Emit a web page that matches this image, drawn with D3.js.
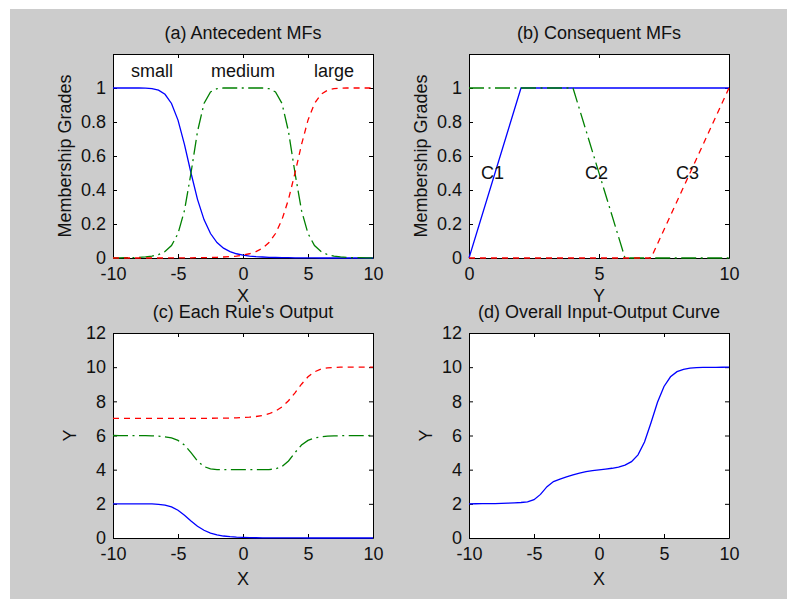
<!DOCTYPE html>
<html>
<head>
<meta charset="utf-8">
<script src="https://cdn.jsdelivr.net/npm/d3@7"></script>
<style>
  html, body { margin: 0; padding: 0; background: #ffffff; }
  svg text { font-family: "Liberation Sans", Arial, Helvetica, sans-serif; fill: #111; }
</style>
</head>
<body>
<script>
// Input grid for the single-input Tsukamoto fuzzy model
const xGrid = [-10, -9.5, -9, -8.5, -8, -7.5, -7, -6.5, -6, -5.5, -5, -4.5, -4, -3.5, -3, -2.5, -2, -1.5, -1, -0.5,
  0, 0.5, 1, 1.5, 2, 2.5, 3, 3.5, 4, 4.5, 5, 5.5, 6, 6.5, 7, 7.5, 8, 8.5, 9, 9.5, 10];

// Antecedent membership grades
const mfSmall = [1, 1, 1, 1, 1.000, 0.999, 0.996, 0.987, 0.963, 0.909, 0.811, 0.667, 0.5, 0.345, 0.226, 0.144, 0.091, 0.058, 0.038, 0.025,
  0.017, 0.011, 0.008, 0.006, 0.004, 0.003, 0.002, 0.002, 0.001, 0.001, 0.001, 0.001, 0, 0, 0, 0, 0, 0, 0, 0, 0];
const mfMedium = [0.001, 0.001, 0.002, 0.002, 0.004, 0.007, 0.011, 0.020, 0.038, 0.073, 0.144, 0.280, 0.5, 0.744, 0.909, 0.977, 0.996, 1.000, 1, 1,
  1, 1, 1, 1.000, 0.996, 0.977, 0.909, 0.744, 0.5, 0.280, 0.144, 0.073, 0.038, 0.020, 0.011, 0.007, 0.004, 0.002, 0.002, 0.001, 0.001];
const mfLarge = [0, 0, 0, 0, 0, 0, 0, 0, 0, 0.001, 0.001, 0.001, 0.001, 0.002, 0.002, 0.003, 0.004, 0.006, 0.008, 0.011,
  0.017, 0.025, 0.038, 0.058, 0.091, 0.144, 0.226, 0.345, 0.5, 0.667, 0.811, 0.909, 0.963, 0.987, 0.996, 0.999, 1.000, 1, 1, 1, 1];

// Consequent membership functions (break points)
const c1X = [0, 2, 10],        c1Y = [0, 1, 1];
const c2X = [0, 4, 6, 10],     c2Y = [1, 1, 0, 0];
const c3X = [0, 7, 10],        c3Y = [0, 0, 1];

// Output of each rule
const rule1Out = [2, 2, 2, 2, 2.000, 1.998, 1.992, 1.974, 1.925, 1.818, 1.623, 1.335, 1.0, 0.690, 0.451, 0.287, 0.182, 0.116, 0.075, 0.049,
  0.033, 0.022, 0.016, 0.011, 0.008, 0.006, 0.004, 0.003, 0.002, 0.002, 0.001, 0.001, 0.001, 0.001, 0, 0, 0, 0, 0, 0, 0];
const rule2Out = [5.999, 5.998, 5.997, 5.995, 5.992, 5.987, 5.978, 5.960, 5.925, 5.855, 5.713, 5.439, 5.0, 4.511, 4.182, 4.045, 4.008, 4.001, 4, 4,
  4, 4, 4, 4.001, 4.008, 4.045, 4.182, 4.511, 5.0, 5.439, 5.713, 5.855, 5.925, 5.960, 5.978, 5.987, 5.992, 5.995, 5.997, 5.998, 5.999];
const rule3Out = [7.000, 7.000, 7.000, 7.000, 7.000, 7.001, 7.001, 7.001, 7.001, 7.002, 7.002, 7.003, 7.003, 7.005, 7.006, 7.008, 7.012, 7.017, 7.023, 7.034,
  7.050, 7.074, 7.113, 7.174, 7.273, 7.431, 7.677, 8.036, 8.5, 9.002, 9.434, 9.727, 9.888, 9.960, 9.988, 9.997, 9.999, 10, 10, 10, 10];

// Overall input-output curve
const overallOut = [2.003, 2.004, 2.007, 2.010, 2.016, 2.025, 2.038, 2.055, 2.077, 2.119, 2.241, 2.553, 3.004, 3.306, 3.447, 3.572, 3.699, 3.804, 3.881, 3.939,
  3.985, 4.030, 4.082, 4.154, 4.266, 4.468, 4.868, 5.620, 6.743, 7.941, 8.868, 9.436, 9.735, 9.877, 9.941, 9.969, 9.982, 9.989, 9.993, 9.995, 9.997];

// Tick values
const ticksX = [-10, -5, 0, 5, 10];
const ticksYConseq = [0, 5, 10];
const ticksGrade = [0, 0.2, 0.4, 0.6, 0.8, 1];
const ticksOut = [0, 2, 4, 6, 8, 10, 12];

// Text labels on the MF plots
const antecedentNames = ["small", "medium", "large"];
const antecedentLabelX = [-7, 0, 7];
const consequentNames = ["C1", "C2", "C3"];
const consequentLabelX = [0.9, 4.9, 8.4];

const W = 787, H = 599;
const BLUE = "#0000ff", GREEN = "#008000", RED = "#ff0000";
const DASH = "6,5", DASHDOT = "15,4.5,2,4.5";
const FS = "18px";

const svg = d3.select("body").append("svg").attr("width", W).attr("height", H);
svg.append("rect").attr("x", 0).attr("y", 0).attr("width", W).attr("height", H).attr("fill", "#ffffff");
svg.append("rect").attr("x", 10).attr("y", 9).attr("width", W - 10).attr("height", H - 9).attr("fill", "#cccccc");

function panel(o) {
  const x = d3.scaleLinear().domain(o.xDomain).range([o.left, o.right]);
  const y = d3.scaleLinear().domain(o.yDomain).range([o.bottom, o.top]);
  const g = svg.append("g");

  g.append("rect").attr("x", o.left).attr("y", o.top)
    .attr("width", o.right - o.left).attr("height", o.bottom - o.top).attr("fill", "#ffffff");

  const ax = (gen, tx, ty, labels) => {
    const a = g.append("g").attr("transform", `translate(${tx},${ty})`).call(gen);
    a.selectAll("path.domain").attr("stroke", "#000").attr("stroke-width", 1);
    a.selectAll(".tick line").attr("stroke", "#000");
    a.selectAll("text").style("font-size", FS).attr("fill", "#111");
    if (!labels) a.selectAll("text").remove();
    return a;
  };
  ax(d3.axisBottom(x).tickValues(o.xTicks).tickSizeInner(-4).tickSizeOuter(0).tickPadding(9).tickFormat(d => String(d)), 0, o.bottom, true);
  ax(d3.axisTop(x).tickValues(o.xTicks).tickSizeInner(-4).tickSizeOuter(0), 0, o.top, false);
  ax(d3.axisLeft(y).tickValues(o.yTicks).tickSizeInner(-4).tickSizeOuter(0).tickPadding(7).tickFormat(d => String(d)), o.left, 0, true);
  ax(d3.axisRight(y).tickValues(o.yTicks).tickSizeInner(-4).tickSizeOuter(0), o.right, 0, false);

  o.series.forEach(s => {
    const line = d3.line().x((d, i) => x(s.xs[i])).y(d => y(d));
    g.append("path").datum(s.ys).attr("d", line)
      .attr("fill", "none").attr("stroke", s.color).attr("stroke-width", 1.3)
      .attr("stroke-dasharray", s.dash || null);
  });

  (o.notes || []).forEach(n => {
    g.append("text").attr("x", x(n.x)).attr("y", y(n.y)).attr("dy", "0.36em")
      .attr("text-anchor", "middle").style("font-size", FS).text(n.text);
  });

  const cx = (o.left + o.right) / 2, cy = (o.top + o.bottom) / 2;
  g.append("text").attr("x", cx).attr("y", o.top - 15).attr("text-anchor", "middle")
    .style("font-size", FS).text(o.title);
  g.append("text").attr("x", cx).attr("y", o.bottom + o.xLabelGap).attr("text-anchor", "middle")
    .style("font-size", FS).text(o.xLabel);
  g.append("text").attr("transform", `translate(${o.left - o.yLabelGap},${cy}) rotate(-90)`)
    .attr("text-anchor", "middle").style("font-size", FS).text(o.yLabel);
}

const colL = [113, 373], colR = [469, 729];
const rowT = [54, 258], rowB = [333, 538];

panel({
  left: colL[0], right: colL[1], top: rowT[0], bottom: rowT[1],
  xDomain: [-10, 10], yDomain: [0, 1.2], xTicks: ticksX, yTicks: ticksGrade,
  title: "(a) Antecedent MFs", xLabel: "X", yLabel: "Membership Grades", xLabelGap: 44, yLabelGap: 42,
  series: [
    { xs: xGrid, ys: mfSmall, color: BLUE },
    { xs: xGrid, ys: mfMedium, color: GREEN, dash: DASHDOT },
    { xs: xGrid, ys: mfLarge, color: RED, dash: DASH }
  ],
  notes: antecedentNames.map((t, i) => ({ text: t, x: antecedentLabelX[i], y: 1.1 }))
});

panel({
  left: colR[0], right: colR[1], top: rowT[0], bottom: rowT[1],
  xDomain: [0, 10], yDomain: [0, 1.2], xTicks: ticksYConseq, yTicks: ticksGrade,
  title: "(b) Consequent MFs", xLabel: "Y", yLabel: "Membership Grades", xLabelGap: 44, yLabelGap: 42,
  series: [
    { xs: c1X, ys: c1Y, color: BLUE },
    { xs: c2X, ys: c2Y, color: GREEN, dash: DASHDOT },
    { xs: c3X, ys: c3Y, color: RED, dash: DASH }
  ],
  notes: consequentNames.map((t, i) => ({ text: t, x: consequentLabelX[i], y: 0.5 }))
});

panel({
  left: colL[0], right: colL[1], top: rowB[0], bottom: rowB[1],
  xDomain: [-10, 10], yDomain: [0, 12], xTicks: ticksX, yTicks: ticksOut,
  title: "(c) Each Rule's Output", xLabel: "X", yLabel: "Y", xLabelGap: 47, yLabelGap: 37,
  series: [
    { xs: xGrid, ys: rule1Out, color: BLUE },
    { xs: xGrid, ys: rule2Out, color: GREEN, dash: DASHDOT },
    { xs: xGrid, ys: rule3Out, color: RED, dash: DASH }
  ]
});

panel({
  left: colR[0], right: colR[1], top: rowB[0], bottom: rowB[1],
  xDomain: [-10, 10], yDomain: [0, 12], xTicks: ticksX, yTicks: ticksOut,
  title: "(d) Overall Input-Output Curve", xLabel: "X", yLabel: "Y", xLabelGap: 47, yLabelGap: 37,
  series: [
    { xs: xGrid, ys: overallOut, color: BLUE }
  ]
});
</script>
</body>
</html>
